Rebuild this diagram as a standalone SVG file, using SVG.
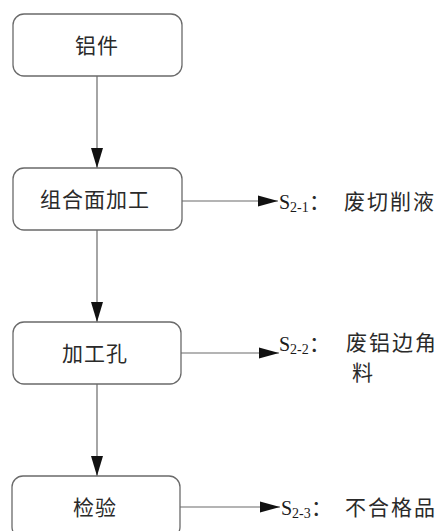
<svg xmlns="http://www.w3.org/2000/svg" width="443" height="531" viewBox="0 0 443 531">
<style>
.box{fill:#fff;stroke:#6a6a6a;stroke-width:1.3}
.t{font-family:"Noto Sans CJK SC",sans-serif;font-size:21px;fill:#2a2a2a;text-anchor:middle;letter-spacing:1px}
.c{stroke:#6a6a6a;stroke-width:1.2;fill:none}
.s{font-family:"Liberation Serif",serif;fill:#1a1a1a}
.z{font-family:"Noto Sans CJK SC",sans-serif;font-size:21px;fill:#2a2a2a;letter-spacing:2px}
</style>
<defs>
<marker id="av" markerWidth="12" markerHeight="20" refX="6" refY="20" orient="0" markerUnits="userSpaceOnUse"><path d="M0,0 L12,0 L6,20 Z" fill="#111"/></marker>
<marker id="ah" markerWidth="20" markerHeight="12" refX="20" refY="6" orient="0" markerUnits="userSpaceOnUse"><path d="M0,0.5 L20,6 L0,11.5 Z" fill="#111"/></marker>
</defs>
<rect width="443" height="531" fill="#fff"/>
<g id="connectors">
<line class="c" x1="97" y1="76" x2="97" y2="168" marker-end="url(#av)"/>
<line class="c" x1="97" y1="230" x2="97" y2="322" marker-end="url(#av)"/>
<line class="c" x1="97" y1="384" x2="97" y2="476" marker-end="url(#av)"/>
<line class="c" x1="182" y1="201" x2="278" y2="201" marker-end="url(#ah)"/>
<line class="c" x1="181" y1="353" x2="279" y2="353" marker-end="url(#ah)"/>
<line class="c" x1="180" y1="507" x2="280" y2="507" marker-end="url(#ah)"/>
</g>
<g id="n1"><rect class="box" x="13" y="14" width="169" height="62" rx="11"/><text class="t" x="97" y="53">铝件</text></g>
<g id="n2"><rect class="box" x="13" y="168" width="169" height="62" rx="11"/><text class="t" x="95" y="207">组合面加工</text></g>
<g id="n3"><rect class="box" x="13" y="322" width="168" height="62" rx="11"/><text class="t" x="95" y="361">加工孔</text></g>
<g id="n4"><rect class="box" x="12" y="476" width="168" height="62" rx="11"/><text class="t" x="95" y="515">检验</text></g>
<g id="l1"><text class="s" x="279" y="209" font-size="20">S</text><text class="s" x="290" y="212" font-size="14">2-1</text><text class="z" x="309" y="209">：</text><text class="z" x="344" y="209">废切削液</text></g>
<g id="l2"><text class="s" x="279" y="351" font-size="20">S</text><text class="s" x="290" y="354" font-size="14">2-2</text><text class="z" x="309" y="351">：</text><text class="z" x="346" y="350">废铝边角</text><text class="z" x="352" y="380">料</text></g>
<g id="l3"><text class="s" x="281" y="515" font-size="20">S</text><text class="s" x="292" y="518" font-size="14">2-3</text><text class="z" x="311" y="515">：</text><text class="z" x="345" y="515">不合格品</text></g>
</svg>
